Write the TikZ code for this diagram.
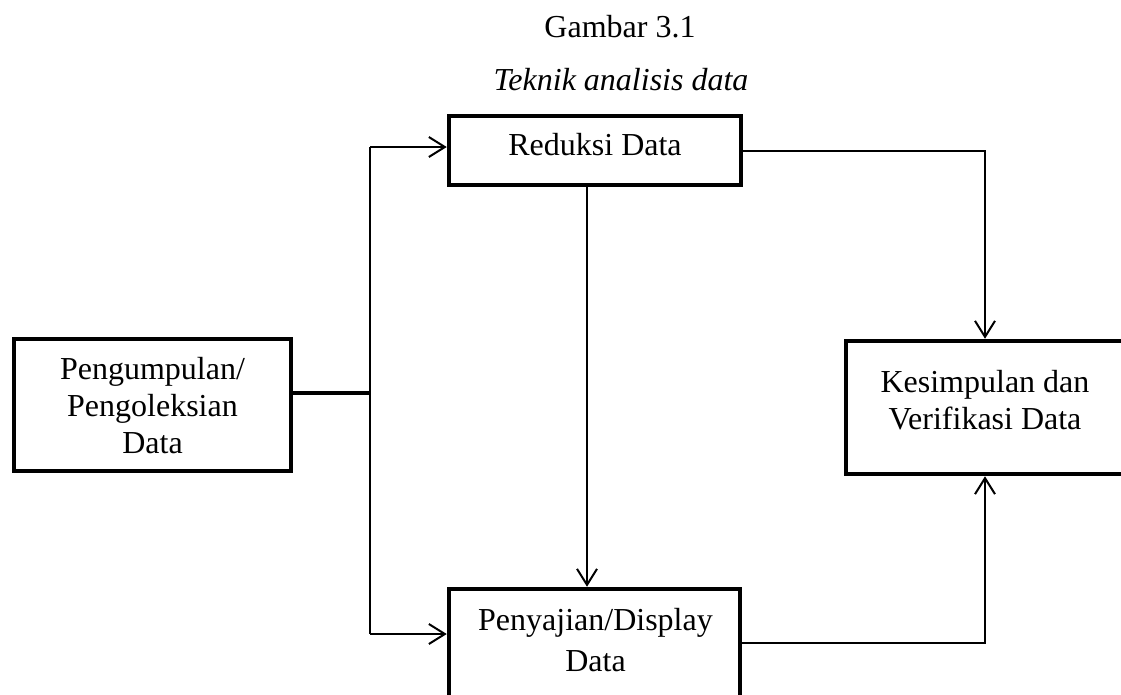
\documentclass[tikz,border=0pt]{standalone}
\usepackage{fontspec}
\setmainfont{Liberation Serif}
\usetikzlibrary{arrows.meta}
\begin{document}
\begin{tikzpicture}[x=1pt,y=-1pt,
  box/.style={draw,line width=4.5pt,rectangle,inner sep=0pt},
  lbl/.style={inner sep=0pt,align=center,font=\fontsize{32}{37}\selectfont},
  conn/.style={line width=2pt},
  thickconn/.style={line width=4.5pt},
  arr/.style={conn,-{Straight Barb[length=16pt,width=20pt]}}]
\useasboundingbox (0,0) rectangle (1121,694);
\clip (0,0) rectangle (1121,694);
% titles
\node[lbl,anchor=base] (t1) at (620,37) {Gambar 3.1};
\node[lbl,anchor=base] (t2) at (621,90) {\itshape Teknik analisis data};
% boxes
\node[box,minimum width=292pt,minimum height=69pt] (R) at (595,150.5) {};
\node[box,minimum width=277pt,minimum height=132pt] (S) at (152.5,405) {};
\node[box,minimum width=278pt,minimum height=133pt] (K) at (985,407.5) {};
\node[box,minimum width=291pt,minimum height=108pt] (P) at (594.5,643) {};
% texts
\node[lbl] (Rt) at (595,147.6) {\strut Reduksi Data};
\node[lbl] (St) at (152.5,408.6) {\strut Pengumpulan/\\\strut Pengoleksian\\\strut Data};
\node[lbl] (Kt) at (985,403.1) {\strut Kesimpulan dan\\\strut Verifikasi Data};
\node[lbl,font=\fontsize{32}{41}\selectfont] (Pt) at (595.5,642.3) {\strut Penyajian/Display\\\strut Data};
% connectors
\coordinate (j) at (370,393);
\coordinate (jt) at (370,147);
\coordinate (jb) at (370,634);
\coordinate (rd) at (587,0);
\draw[thickconn] (S.east |- j) -- (j);
\draw[conn] (jt) -- (jb);
\draw[arr] (jt) -- (R.west |- jt);
\draw[arr] (jb) -- (P.west |- jb);
\draw[arr] (R.south -| rd) -- (P.north -| rd);
\draw[arr] (R.east) -| (K.north);
\draw[arr] (P.east) -| (K.south);
\end{tikzpicture}
\end{document}
